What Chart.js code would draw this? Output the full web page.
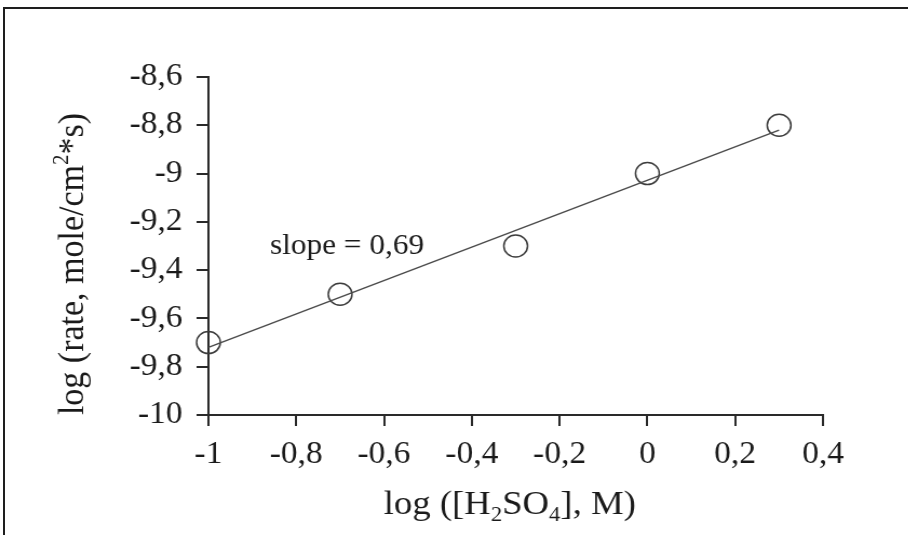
<!DOCTYPE html>
<html>
<head>
<meta charset="utf-8">
<script src="https://cdn.jsdelivr.net/npm/chart.js@4.4.1/dist/chart.umd.min.js"></script>
<style>
  html, body { margin: 0; padding: 0; background: #fff; }
  body { width: 908px; height: 535px; position: relative; overflow: hidden; }
  #frame {
    position: absolute; left: 3px; top: 7px; right: -4px; bottom: -4px;
    border-top: 2px solid #1e1e1e; border-left: 2px solid #1e1e1e;
  }
  #wrap {
    position: absolute; left: 0; top: 0; width: 841px; height: 535px;
    transform: scaleX(1.08); transform-origin: 0 0;
  }
</style>
</head>
<body>
<div id="frame"></div>
<div id="wrap"><canvas id="rate-chart" width="841" height="535"></canvas></div>
<script>
// measured points: log [H2SO4] vs log rate
const logConc = [-1, -0.7, -0.3, 0, 0.3];
const logRate = [-9.7, -9.5, -9.3, -9.0, -8.8];

// fitted line end points (slope 0,69)
const fitX = [-1, 0.3];
const fitY = [-9.72, -8.82];

const xTicks = [-1, -0.8, -0.6, -0.4, -0.2, 0, 0.2, 0.4];
const xTickLabels = ['-1', '-0,8', '-0,6', '-0,4', '-0,2', '0', '0,2', '0,4'];
const yTicks = [-10, -9.8, -9.6, -9.4, -9.2, -9, -8.8, -8.6];
const yTickLabels = ['-10', '-9,8', '-9,6', '-9,4', '-9,2', '-9', '-8,8', '-8,6'];

const slopeText = 'slope = 0,69';
const slopeAt = { x: -0.86, y: -9.3 };

const serif = "'Liberation Serif', 'Times New Roman', serif";
const ink = '#1a1a1a';

// draw a run of text pieces, some raised or lowered, centred on (0,0)
function drawRuns(ctx, runs, size) {
  const small = Math.round(size * 0.62);
  let total = 0;
  runs.forEach(r => {
    ctx.font = `${r.shift ? small : size}px ${serif}`;
    r.w = ctx.measureText(r.t).width;
    total += r.w;
  });
  let x = -total / 2;
  runs.forEach(r => {
    ctx.font = `${r.shift ? small : size}px ${serif}`;
    const dy = r.shift === 'sup' ? -size * 0.42 : r.shift === 'sub' ? size * 0.2 : 0;
    ctx.fillText(r.t, x, dy);
    x += r.w;
  });
}

const labelsPlugin = {
  id: 'labels',
  afterDraw(chart) {
    const { ctx, chartArea, scales } = chart;
    ctx.save();
    ctx.fillStyle = ink;
    ctx.textBaseline = 'alphabetic';
    ctx.textAlign = 'left';

    // x axis title
    ctx.save();
    ctx.translate(chartArea.left + 279, chartArea.bottom + 99);
    drawRuns(ctx, [
      { t: 'log ([H' }, { t: '2', shift: 'sub' }, { t: 'SO' },
      { t: '4', shift: 'sub' }, { t: '], M)' }
    ], 34);
    ctx.restore();

    // y axis title
    ctx.save();
    ctx.translate(77, chartArea.top + 187);
    ctx.rotate(-Math.PI / 2);
    drawRuns(ctx, [
      { t: 'log (rate, mole/cm' }, { t: '2', shift: 'sup' }, { t: '*s)' }
    ], 34);
    ctx.restore();

    // slope note
    ctx.font = `29px ${serif}`;
    ctx.textBaseline = 'middle';
    ctx.fillText(slopeText, scales.x.getPixelForValue(slopeAt.x), scales.y.getPixelForValue(slopeAt.y));
    ctx.restore();
  }
};

const axisStyle = {
  border: { display: true, color: '#2a2a2a', width: 2 },
  grid: { display: true, drawOnChartArea: false, drawTicks: true, tickLength: 11, color: '#2a2a2a', lineWidth: 2 },
};

new Chart(document.getElementById('rate-chart').getContext('2d'), {
  type: 'scatter',
  data: {
    datasets: [
      {
        type: 'line',
        data: fitX.map((x, i) => ({ x, y: fitY[i] })),
        borderColor: '#4a4a4a',
        borderWidth: 1.5,
        pointRadius: 0,
        clip: false,
      },
      {
        data: logConc.map((x, i) => ({ x, y: logRate[i] })),
        pointRadius: 11,
        pointBackgroundColor: 'rgba(255,255,255,0)',
        pointBorderColor: '#3c3c3c',
        pointBorderWidth: 1.5,
        clip: false,
      }
    ]
  },
  options: {
    responsive: false,
    animation: false,
    events: [],
    layout: { padding: { top: 77, right: 79, left: 0, bottom: 0 } },
    plugins: { legend: { display: false }, tooltip: { enabled: false } },
    scales: {
      x: {
        type: 'linear',
        min: -1, max: 0.4,
        ...axisStyle,
        afterBuildTicks: s => { s.ticks = xTicks.map(value => ({ value })); },
        afterFit: s => { s.height = 120; },
        ticks: {
          color: ink,
          padding: 10,
          maxRotation: 0,
          autoSkip: false,
          font: { family: serif, size: 31 },
          callback: (v, i) => xTickLabels[i],
        },
      },
      y: {
        type: 'linear',
        min: -10, max: -8.6,
        ...axisStyle,
        afterBuildTicks: s => { s.ticks = yTicks.map(value => ({ value })); },
        afterFit: s => { s.width = 193; },
        ticks: {
          color: ink,
          padding: 13,
          autoSkip: false,
          font: { family: serif, size: 31 },
          callback: (v, i) => yTickLabels[i],
        },
      }
    }
  },
  plugins: [labelsPlugin]
});
</script>
</body>
</html>
